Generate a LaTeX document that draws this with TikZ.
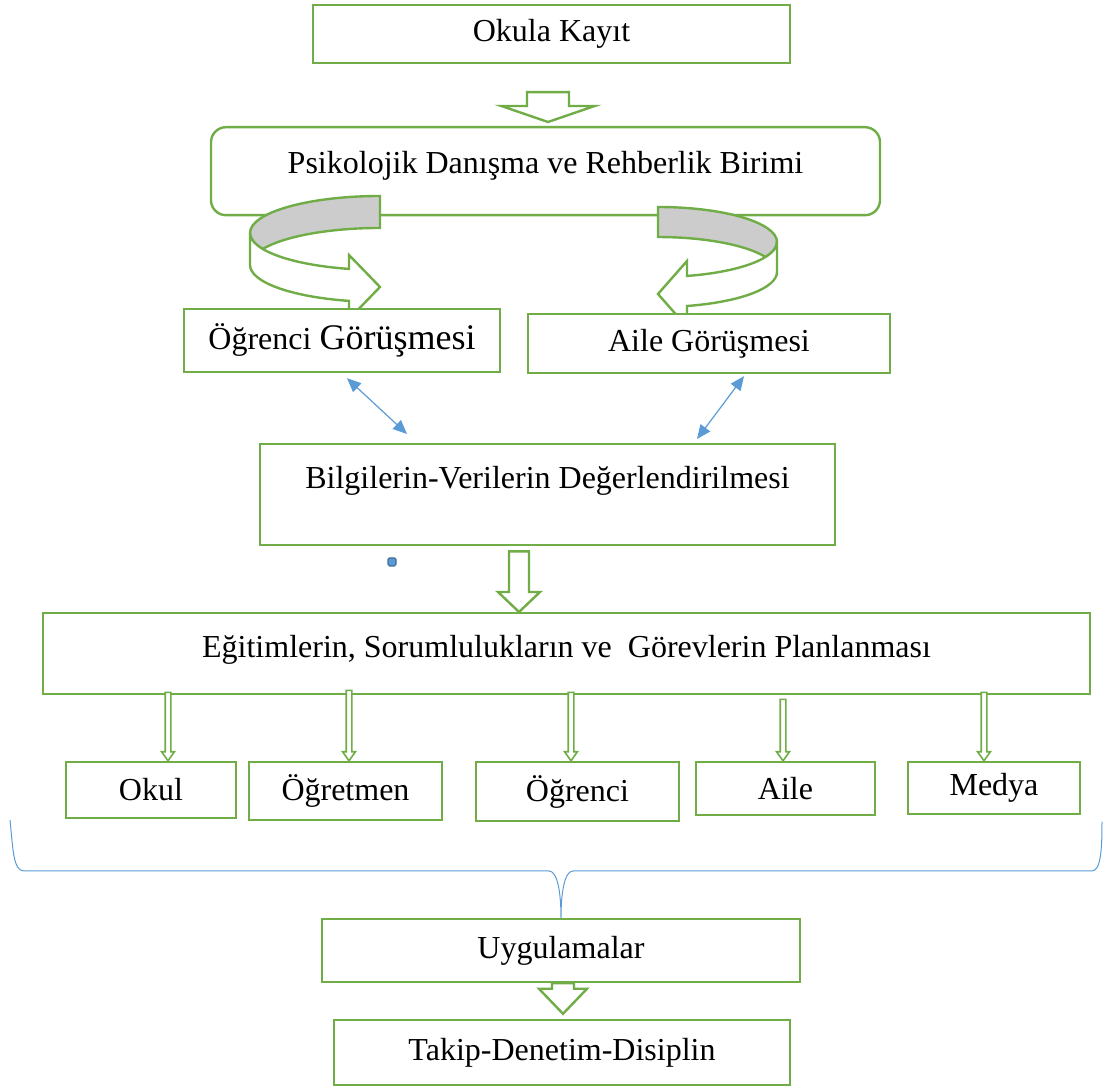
\documentclass[tikz,border=0pt]{standalone}
\usepackage{fontspec}
\setmainfont{Liberation Serif}
\usetikzlibrary{calc,arrows.meta}

\definecolor{grn}{HTML}{70AD47}
\definecolor{blu}{HTML}{5B9BD5}
\definecolor{bandgray}{HTML}{CCCCCC}

\newcommand{\fs}{\fontsize{16}{19}\selectfont}
% hollow block arrow: #2 start, #3 tip, #4 shaft half width, #5 head half width, #6 head length
\newcommand{\blockarrow}[6][blk]{%
  \draw[#1] let \p1=(#2), \p2=(#3) in
    (\x2-#4,\y1) -- (\x2-#4,\y2+#6) -- (\x2-#5,\y2+#6) -- (\x2,\y2)
    -- (\x2+#5,\y2+#6) -- (\x2+#4,\y2+#6) -- (\x2+#4,\y1) -- cycle;}

\begin{document}
\begin{tikzpicture}[%
    x=0.5pt, y=-0.5pt,          % one unit is one pixel of the sketch
    ]
% -------------------------------------------------
% Box and line styles
\tikzset{
  box/.style={draw=grn, line width=1.2pt, fill=white, font=\fs, inner sep=0pt},
  rbox/.style={box, rounded corners=7.5pt},
  blk/.style={draw=grn, line width=1.2pt, fill=white, line join=miter},
  thinblk/.style={blk, line width=0.8pt},
  ribbon/.style={draw=grn, line width=1.2pt},
  link/.style={draw=blu, line width=0.6pt,
    {Triangle[length=7pt,width=6pt]}-{Triangle[length=7pt,width=6pt]}},
  brace/.style={draw=blu, line width=0.5pt}
}
\useasboundingbox (0,0) rectangle (1105,1090);
% -------------------------------------------------
% Top of the flow
\node [box, minimum width=238.5pt, minimum height=29pt] (kayit) at (551.5,34) {Okula Kayıt};
\node [rbox, anchor=north, minimum width=334.5pt, text height=23pt, text depth=21pt]
  (birim) at (545.5,126) {Psikolojik Danışma ve Rehberlik Birimi};

\blockarrow{$(kayit.south)+(-3.5,28)$}{$(birim.north)+(2.5,-4)$}{10.5pt}{23.3pt}{8pt}

% Curved ribbon arrows under the unit
\filldraw [ribbon, fill=bandgray] (380,196)
  arc [start angle=270, end angle=180, x radius=130, y radius=37]
  arc [start angle=180, end angle=154.4, x radius=130, y radius=37]
  arc [start angle=205.6, end angle=270, x radius=130, y radius=37] -- cycle;
\filldraw [ribbon, fill=white] (250,233)
  arc [start angle=180, end angle=103.8, x radius=130, y radius=37]
  -- (349,255) -- (380,287) -- (349,319) -- (349,300.9)
  arc [start angle=103.8, end angle=180, x radius=130, y radius=37] -- cycle;

\filldraw [ribbon, fill=bandgray] (658,207)
  arc [start angle=270, end angle=360, x radius=119, y radius=35]
  arc [start angle=0, end angle=25.4, x radius=119, y radius=35]
  arc [start angle=334.6, end angle=270, x radius=119, y radius=35] -- cycle;
\filldraw [ribbon, fill=white] (777,242)
  arc [start angle=0, end angle=75.9, x radius=119, y radius=35]
  -- (687,261) -- (658,294) -- (687,327) -- (687,306)
  arc [start angle=75.9, end angle=0, x radius=119, y radius=35] -- cycle;

% Interviews
\node [box, minimum width=158pt, minimum height=31.5pt] (ogrgor) at (342,340.5)
  {Öğrenci {\fontsize{18}{21}\selectfont Görüşmesi}};
\node [box, minimum width=181pt, minimum height=29.5pt] (ailegor) at (709,343.5) {Aile Görüşmesi};

\node [box, anchor=north, minimum width=287.5pt, text height=22pt, text depth=28.5pt]
  (deger) at (547.5,443) {Bilgilerin-Verilerin Değerlendirilmesi};

\draw [link] ($(ogrgor.south)+(5,5)$) -- ($(deger.north)+(-140.5,-9)$);
\draw [link] ($(ailegor.south)+(35,2)$) -- ($(deger.north)+(149.5,-4)$);

\node [draw=blu!70!black, fill=blu, line width=0.6pt, minimum size=4pt, inner sep=0pt,
  rounded corners=0.8pt] (kare) at (392,562) {};

% Planning and the five parties
\node [box, anchor=north, minimum width=523.5pt, text height=22pt, text depth=18.5pt]
  (plan) at (566.5,612) {Eğitimlerin, Sorumlulukların ve\ \ Görevlerin Planlanması};

\blockarrow{$(deger.south)+(-27.5,5)$}{$(plan.north)+(-47.5,0)$}{5pt}{10.5pt}{10pt}

\node [box, minimum width=85pt,   minimum height=28pt]   (okul)     at (151,790)     {Okul};
\node [box, minimum width=96.5pt, minimum height=29pt]   (ogretmen) at (345.5,791)   {Öğretmen};
\node [box, minimum width=101.5pt,minimum height=29.5pt] (ogrenci)  at (577.5,791.5) {Öğrenci};
\node [box, minimum width=89.5pt, minimum height=26.5pt] (aile)     at (785.5,788.5) {Aile};
\node [box, minimum width=86pt,   minimum height=26pt]   (medya)    at (994,788)     {Medya};

\foreach \t/\dx/\dy in {okul/17/-3, ogretmen/3.5/-5, ogrenci/-6.5/-3, aile/-2.5/4, medya/-10/-3}
  \blockarrow[thinblk]{$(plan.south)+(0,\dy)$}{$(\t.north)+(\dx,0)$}{1.4pt}{3.2pt}{4.5pt};

% Brace gathering the parties
\node [box, minimum width=239pt, minimum height=31.5pt] (uyg) at (561,950.5) {Uygulamalar};
\draw [brace] (10,820) .. controls (13,848) and (13,871) .. (24,871) -- (549,871)
  .. controls (558,871) and (561,895) .. (uyg.north)
  .. controls (561,895) and (564,871) .. (573,871) -- (1092,871)
  .. controls (1101,871) and (1102,848) .. (1102,822);

\node [box, minimum width=228pt, minimum height=32.5pt] (takip) at (562,1052.5) {Takip-Denetim-Disiplin};
\blockarrow{$(uyg.south)+(2,0)$}{$(takip.north)+(1,-5)$}{5.5pt}{12pt}{12.5pt}
% -------------------------------------------------
\end{tikzpicture}
\end{document}
